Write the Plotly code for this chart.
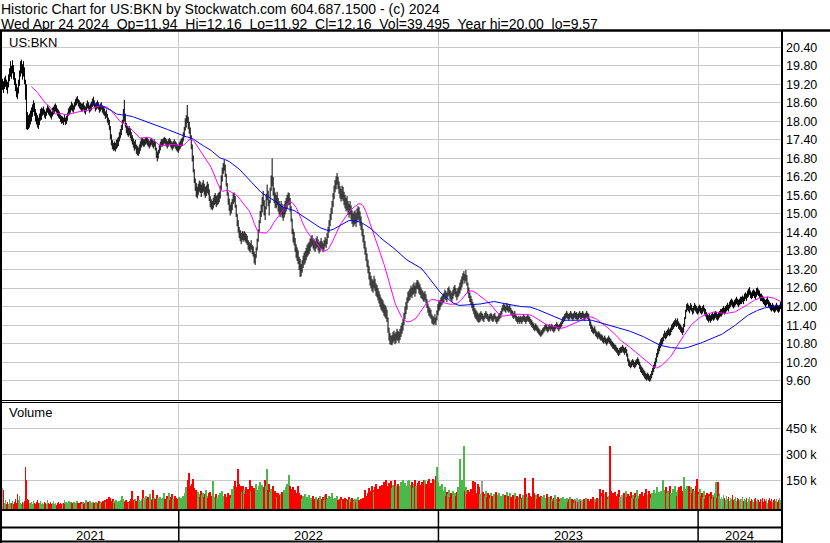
import pandas as pd
import plotly.graph_objects as go

W, H = 830, 543
FONT = "Liberation Sans, Arial, sans-serif"

# daily highs and lows, one row = 20 trading days (Apr 2021 -> Apr 24 2024)
hi = [
    19.38, 19.30, 19.42, 19.48, 19.35, 19.28, 19.52, 19.72, 19.95, 19.80, 19.98, 19.82, 19.60, 19.40, 19.22, 19.10, 19.35, 19.65, 19.95, 20.00,
    19.85, 19.95, 19.75, 19.35, 19.20, 18.30, 18.20, 18.25, 18.35, 18.45, 18.55, 18.68, 18.60, 18.40, 18.28, 18.20, 18.12, 18.25, 18.40, 18.45,
    18.42, 18.48, 18.38, 18.32, 18.42, 18.52, 18.48, 18.42, 18.38, 18.32, 18.44, 18.48, 18.54, 18.58, 18.52, 18.42, 18.38, 18.32, 18.22, 18.18,
    18.16, 18.12, 18.22, 18.12, 18.18, 18.28, 18.42, 18.48, 18.52, 18.64, 18.58, 18.52, 18.62, 18.72, 18.78, 18.82, 18.72, 18.68, 18.62, 18.58,
    18.58, 18.62, 18.52, 18.48, 18.58, 18.68, 18.62, 18.52, 18.58, 18.64, 18.74, 18.80, 18.68, 18.58, 18.62, 18.68, 18.62, 18.52, 18.58, 18.62,
    18.52, 18.48, 18.42, 18.32, 18.38, 18.24, 18.12, 18.05, 17.85, 17.58, 17.40, 17.30, 17.35, 17.30, 17.40, 17.45, 17.50, 17.65, 17.75, 17.88,
    18.05, 18.40, 18.70, 18.25, 17.95, 17.85, 17.80, 17.85, 17.75, 17.65, 17.55, 17.45, 17.35, 17.40, 17.25, 17.20, 17.15, 17.25, 17.35, 17.45,
    17.46, 17.42, 17.42, 17.46, 17.50, 17.46, 17.42, 17.36, 17.42, 17.46, 17.42, 17.36, 17.42, 17.34, 17.15, 17.02, 17.08, 17.24, 17.34, 17.42,
    17.42, 17.46, 17.50, 17.46, 17.42, 17.36, 17.42, 17.46, 17.42, 17.36, 17.32, 17.36, 17.42, 17.36, 17.32, 17.26, 17.22, 17.32, 17.38, 17.44,
    17.48, 17.65, 17.82, 18.10, 18.20, 18.53, 18.15, 17.98, 17.80, 17.55, 17.25, 16.90, 16.45, 16.15, 16.00, 15.88, 15.98, 16.08, 16.05, 15.95,
    16.02, 16.10, 15.98, 15.88, 15.92, 16.05, 15.98, 15.80, 15.58, 15.48, 15.42, 15.52, 15.62, 15.68, 15.58, 15.62, 15.68, 15.72, 15.92, 16.25,
    16.50, 16.65, 16.75, 16.60, 16.30, 16.00, 15.70, 15.50, 15.30, 15.38, 15.48, 15.68, 15.70, 15.58, 15.30, 15.00, 14.80, 14.58, 14.48, 14.38,
    14.45, 14.40, 14.45, 14.40, 14.35, 14.30, 14.15, 14.10, 14.05, 14.15, 14.00, 13.95, 13.78, 13.70, 13.92, 14.20, 14.50, 14.80, 15.10, 15.30,
    15.55, 15.75, 15.45, 15.25, 15.65, 15.95, 15.75, 15.45, 15.85, 16.25, 16.80, 16.20, 15.85, 15.70, 15.62, 15.72, 15.52, 15.42, 15.32, 15.42,
    15.32, 15.22, 15.32, 15.42, 15.52, 15.62, 15.70, 15.68, 15.52, 15.25, 14.85, 14.52, 14.42, 14.22, 14.02, 13.92, 13.82, 13.62, 13.55, 13.38,
    13.50, 13.65, 13.75, 13.80, 13.90, 14.00, 14.05, 14.10, 14.20, 14.28, 14.32, 14.22, 14.18, 14.12, 14.22, 14.28, 14.18, 14.08, 14.12, 14.22,
    14.12, 14.05, 14.15, 14.25, 14.20, 14.38, 14.58, 14.80, 15.00, 15.20, 15.42, 15.68, 15.92, 16.10, 16.22, 16.33, 16.20, 16.05, 15.90, 15.80,
    15.92, 15.88, 15.72, 15.62, 15.52, 15.58, 15.42, 15.32, 15.42, 15.28, 15.12, 15.02, 15.08, 15.12, 15.02, 15.18, 15.25, 15.22, 15.08, 14.92,
    14.70, 14.52, 14.32, 14.12, 13.92, 13.72, 13.52, 13.32, 13.12, 13.00, 12.90, 12.85, 13.00, 12.90, 12.75, 12.70, 12.60, 12.50, 12.40, 12.30,
    12.25, 12.20, 12.10, 12.05, 12.00, 11.90, 11.65, 11.32, 11.15, 11.05, 11.08, 11.18, 11.22, 11.12, 11.18, 11.28, 11.22, 11.18, 11.28, 11.38,
    11.48, 11.60, 11.80, 12.00, 12.15, 12.30, 12.48, 12.52, 12.58, 12.68, 12.62, 12.72, 12.78, 12.68, 12.78, 12.86, 12.85, 12.78, 12.72, 12.62,
    12.55, 12.50, 12.45, 12.50, 12.40, 12.25, 12.10, 12.00, 11.95, 11.90, 11.75, 11.70, 11.65, 11.75, 11.65, 11.88, 12.08, 12.18, 12.22, 12.30,
    12.35, 12.40, 12.45, 12.55, 12.50, 12.45, 12.60, 12.65, 12.55, 12.50, 12.45, 12.55, 12.65, 12.70, 12.60, 12.50, 12.60, 12.65, 12.78, 12.88,
    12.98, 13.08, 13.15, 13.05, 13.19, 13.02, 12.78, 12.62, 12.45, 12.35, 12.25, 12.15, 12.05, 11.95, 11.90, 11.85, 11.80, 11.75, 11.80, 11.85,
    11.80, 11.76, 11.70, 11.80, 11.86, 11.80, 11.76, 11.70, 11.76, 11.80, 11.76, 11.70, 11.76, 11.80, 11.70, 11.66, 11.70, 11.76, 11.80, 11.86,
    11.96, 12.06, 12.12, 12.06, 12.00, 12.12, 12.06, 12.00, 12.06, 11.96, 11.90, 11.86, 11.80, 11.86, 11.76, 11.70, 11.66, 11.70, 11.66, 11.70,
    11.66, 11.70, 11.76, 11.70, 11.66, 11.70, 11.76, 11.70, 11.66, 11.60, 11.56, 11.50, 11.46, 11.40, 11.46, 11.40, 11.36, 11.30, 11.26, 11.20,
    11.24, 11.30, 11.34, 11.40, 11.44, 11.40, 11.34, 11.40, 11.44, 11.40, 11.44, 11.40, 11.34, 11.40, 11.44, 11.50, 11.44, 11.40, 11.44, 11.50,
    11.55, 11.66, 11.70, 11.76, 11.80, 11.86, 11.80, 11.76, 11.80, 11.86, 11.80, 11.76, 11.80, 11.86, 11.80, 11.82, 11.76, 11.80, 11.86, 11.80,
    11.80, 11.86, 11.80, 11.76, 11.80, 11.86, 11.80, 11.76, 11.62, 11.52, 11.42, 11.36, 11.30, 11.36, 11.26, 11.20, 11.16, 11.20, 11.16, 11.10,
    11.10, 11.06, 11.00, 11.06, 11.00, 10.96, 11.00, 11.06, 11.00, 10.96, 10.90, 10.86, 10.82, 10.78, 10.76, 10.70, 10.66, 10.60, 10.66, 10.70,
    10.70, 10.76, 10.70, 10.66, 10.70, 10.62, 10.48, 10.32, 10.26, 10.20, 10.26, 10.30, 10.26, 10.20, 10.26, 10.30, 10.36, 10.30, 10.22, 10.12,
    10.06, 10.02, 9.96, 9.92, 9.86, 9.82, 9.86, 9.82, 9.76, 9.82, 9.92, 10.02, 10.12, 10.22, 10.34, 10.50, 10.64, 10.74, 10.84, 10.94,
    10.98, 11.02, 11.12, 11.22, 11.16, 11.22, 11.26, 11.32, 11.26, 11.32, 11.42, 11.46, 11.52, 11.56, 11.62, 11.56, 11.62, 11.52, 11.46, 11.42,
    11.36, 11.32, 11.44, 11.66, 11.90, 12.08, 12.12, 12.06, 12.02, 12.12, 12.06, 11.96, 12.02, 12.12, 12.06, 12.02, 11.96, 12.02, 12.06, 12.02,
    11.96, 12.02, 12.06, 11.96, 11.92, 11.82, 11.76, 11.72, 11.76, 11.72, 11.76, 11.82, 11.76, 11.82, 11.86, 11.82, 11.76, 11.82, 11.86, 11.92,
    11.92, 11.96, 12.02, 11.96, 12.02, 12.06, 12.12, 12.06, 12.16, 12.22, 12.26, 12.22, 12.16, 12.22, 12.26, 12.32, 12.26, 12.22, 12.26, 12.32,
    12.32, 12.36, 12.32, 12.42, 12.46, 12.42, 12.52, 12.58, 12.63, 12.52, 12.46, 12.52, 12.56, 12.52, 12.48, 12.60, 12.62, 12.56, 12.52, 12.42,
    12.42, 12.36, 12.32, 12.26, 12.22, 12.26, 12.32, 12.22, 12.16, 12.12, 12.06, 12.12, 12.06, 12.02, 12.06, 12.12, 12.06, 12.02, 12.06, 12.16,
]

lo = [
    19.02, 18.92, 19.05, 19.12, 19.02, 18.90, 19.10, 19.30, 19.45, 19.38, 19.55, 19.35, 19.18, 18.98, 18.78, 18.72, 18.90, 19.15, 19.45, 19.55,
    19.35, 19.45, 19.20, 18.70, 17.75, 17.72, 17.75, 17.80, 17.90, 18.00, 18.15, 18.30, 18.18, 18.00, 17.90, 17.80, 17.75, 17.88, 18.02, 18.05,
    18.18, 18.22, 18.12, 18.08, 18.18, 18.28, 18.22, 18.18, 18.12, 18.06, 18.16, 18.22, 18.26, 18.32, 18.28, 18.18, 18.12, 18.08, 17.98, 17.92,
    17.94, 17.88, 17.98, 17.88, 17.92, 18.02, 18.18, 18.22, 18.28, 18.36, 18.32, 18.28, 18.38, 18.48, 18.52, 18.58, 18.48, 18.42, 18.38, 18.32,
    18.32, 18.38, 18.28, 18.22, 18.32, 18.42, 18.38, 18.28, 18.32, 18.36, 18.46, 18.50, 18.42, 18.32, 18.38, 18.42, 18.38, 18.28, 18.32, 18.38,
    18.28, 18.22, 18.18, 18.08, 18.12, 17.96, 17.88, 17.72, 17.42, 17.22, 17.10, 17.05, 17.06, 17.02, 17.10, 17.15, 17.20, 17.35, 17.45, 17.55,
    17.72, 17.95, 18.00, 17.80, 17.62, 17.55, 17.50, 17.55, 17.45, 17.35, 17.25, 17.15, 17.05, 17.10, 16.95, 16.90, 16.88, 16.95, 17.05, 17.15,
    17.22, 17.18, 17.18, 17.24, 17.28, 17.22, 17.18, 17.12, 17.18, 17.24, 17.18, 17.12, 17.18, 17.06, 16.82, 16.70, 16.80, 16.96, 17.06, 17.18,
    17.18, 17.24, 17.28, 17.24, 17.18, 17.12, 17.18, 17.24, 17.18, 17.12, 17.06, 17.12, 17.18, 17.12, 17.06, 17.02, 16.98, 17.06, 17.12, 17.18,
    17.20, 17.35, 17.48, 17.70, 17.80, 17.95, 17.75, 17.60, 17.40, 17.10, 16.70, 16.35, 16.00, 15.75, 15.55, 15.50, 15.62, 15.72, 15.68, 15.55,
    15.68, 15.72, 15.62, 15.52, 15.58, 15.68, 15.62, 15.42, 15.22, 15.15, 15.12, 15.18, 15.28, 15.32, 15.22, 15.28, 15.32, 15.38, 15.50, 15.78,
    16.05, 16.30, 16.40, 16.20, 15.90, 15.60, 15.30, 15.10, 14.95, 15.02, 15.12, 15.32, 15.38, 15.20, 14.90, 14.60, 14.40, 14.22, 14.12, 14.02,
    14.15, 14.10, 14.15, 14.10, 14.05, 14.00, 13.85, 13.80, 13.75, 13.85, 13.70, 13.62, 13.40, 13.35, 13.58, 13.82, 14.10, 14.40, 14.70, 14.90,
    15.05, 15.25, 14.95, 14.80, 15.15, 15.45, 15.25, 14.95, 15.35, 15.75, 15.90, 15.60, 15.35, 15.20, 15.18, 15.28, 15.08, 14.98, 14.90, 14.98,
    14.88, 14.78, 14.88, 14.98, 15.08, 15.18, 15.28, 15.30, 15.08, 14.75, 14.35, 14.08, 13.98, 13.78, 13.58, 13.48, 13.38, 13.18, 12.96, 12.98,
    13.10, 13.25, 13.35, 13.40, 13.50, 13.60, 13.65, 13.70, 13.80, 13.92, 13.98, 13.88, 13.82, 13.78, 13.88, 13.92, 13.82, 13.72, 13.78, 13.88,
    13.85, 13.76, 13.85, 13.95, 13.90, 14.02, 14.22, 14.40, 14.60, 14.80, 15.00, 15.22, 15.48, 15.70, 15.80, 15.95, 15.80, 15.65, 15.50, 15.40,
    15.48, 15.42, 15.28, 15.18, 15.08, 15.12, 14.98, 14.88, 14.98, 14.82, 14.68, 14.58, 14.62, 14.68, 14.58, 14.72, 14.82, 14.78, 14.62, 14.48,
    14.28, 14.08, 13.88, 13.68, 13.48, 13.28, 13.08, 12.88, 12.68, 12.60, 12.50, 12.45, 12.60, 12.50, 12.35, 12.30, 12.20, 12.10, 12.00, 11.90,
    11.85, 11.80, 11.70, 11.65, 11.60, 11.50, 11.15, 10.90, 10.78, 10.76, 10.75, 10.82, 10.88, 10.78, 10.82, 10.92, 10.88, 10.82, 10.92, 11.02,
    11.12, 11.22, 11.40, 11.60, 11.75, 11.90, 12.12, 12.18, 12.22, 12.32, 12.28, 12.38, 12.42, 12.32, 12.42, 12.58, 12.55, 12.42, 12.38, 12.28,
    12.25, 12.20, 12.15, 12.20, 12.10, 11.95, 11.80, 11.70, 11.65, 11.60, 11.45, 11.42, 11.40, 11.45, 11.40, 11.55, 11.72, 11.85, 11.90, 12.00,
    12.05, 12.10, 12.15, 12.25, 12.20, 12.15, 12.30, 12.35, 12.25, 12.20, 12.15, 12.25, 12.35, 12.40, 12.30, 12.20, 12.30, 12.35, 12.42, 12.52,
    12.62, 12.72, 12.85, 12.75, 12.82, 12.68, 12.42, 12.28, 12.15, 12.05, 11.95, 11.85, 11.75, 11.65, 11.60, 11.55, 11.50, 11.48, 11.50, 11.55,
    11.60, 11.54, 11.50, 11.60, 11.64, 11.60, 11.54, 11.50, 11.54, 11.60, 11.54, 11.50, 11.54, 11.60, 11.50, 11.44, 11.50, 11.54, 11.60, 11.64,
    11.74, 11.84, 11.88, 11.84, 11.80, 11.88, 11.84, 11.80, 11.84, 11.74, 11.70, 11.64, 11.60, 11.64, 11.54, 11.50, 11.44, 11.50, 11.44, 11.50,
    11.44, 11.50, 11.54, 11.50, 11.44, 11.50, 11.54, 11.50, 11.44, 11.40, 11.34, 11.30, 11.24, 11.20, 11.24, 11.20, 11.14, 11.10, 11.06, 11.02,
    11.06, 11.10, 11.16, 11.20, 11.26, 11.20, 11.16, 11.20, 11.26, 11.20, 11.26, 11.20, 11.16, 11.20, 11.26, 11.30, 11.26, 11.20, 11.26, 11.30,
    11.35, 11.44, 11.50, 11.54, 11.60, 11.64, 11.60, 11.54, 11.60, 11.64, 11.60, 11.54, 11.60, 11.64, 11.60, 11.58, 11.54, 11.60, 11.64, 11.60,
    11.60, 11.64, 11.60, 11.54, 11.60, 11.64, 11.60, 11.54, 11.38, 11.28, 11.18, 11.14, 11.10, 11.14, 11.04, 11.00, 10.94, 11.00, 10.94, 10.90,
    10.90, 10.84, 10.80, 10.84, 10.80, 10.74, 10.80, 10.84, 10.80, 10.74, 10.70, 10.64, 10.62, 10.58, 10.54, 10.50, 10.44, 10.40, 10.44, 10.50,
    10.50, 10.54, 10.50, 10.44, 10.50, 10.38, 10.22, 10.08, 10.04, 10.00, 10.04, 10.10, 10.04, 10.00, 10.04, 10.10, 10.14, 10.10, 9.98, 9.88,
    9.84, 9.78, 9.74, 9.68, 9.64, 9.60, 9.64, 9.60, 9.57, 9.60, 9.68, 9.78, 9.88, 9.98, 10.06, 10.20, 10.36, 10.46, 10.56, 10.66,
    10.72, 10.78, 10.88, 10.98, 10.94, 10.98, 11.04, 11.08, 11.04, 11.08, 11.18, 11.24, 11.28, 11.34, 11.38, 11.34, 11.38, 11.28, 11.24, 11.18,
    11.14, 11.08, 11.16, 11.34, 11.60, 11.82, 11.88, 11.84, 11.78, 11.88, 11.84, 11.74, 11.78, 11.88, 11.84, 11.78, 11.74, 11.78, 11.84, 11.78,
    11.74, 11.78, 11.84, 11.74, 11.68, 11.58, 11.54, 11.48, 11.54, 11.48, 11.54, 11.58, 11.54, 11.58, 11.64, 11.58, 11.54, 11.58, 11.64, 11.68,
    11.68, 11.74, 11.78, 11.74, 11.78, 11.84, 11.88, 11.84, 11.94, 11.98, 12.04, 11.98, 11.94, 11.98, 12.04, 12.08, 12.04, 11.98, 12.04, 12.08,
    12.08, 12.14, 12.08, 12.18, 12.24, 12.18, 12.28, 12.32, 12.38, 12.28, 12.24, 12.28, 12.34, 12.28, 12.22, 12.32, 12.38, 12.34, 12.28, 12.18,
    12.18, 12.14, 12.08, 12.04, 11.98, 12.04, 12.08, 11.98, 11.94, 11.88, 11.84, 11.88, 11.84, 11.80, 11.84, 11.88, 11.84, 11.80, 11.84, 11.92,
]

# daily volume, thousands of shares
vol_k = [
    105, 95, 20, 35, 15, 28, 12, 45, 22, 18, 30, 14, 25, 40, 18, 70, 35, 62, 20, 15,
    25, 18, 30, 225, 155, 40, 35, 22, 18, 28, 15, 32, 20, 12, 25, 38, 18, 22, 30, 15,
    20, 14, 28, 18, 12, 35, 22, 16, 25, 12, 18, 30, 14, 22, 10, 18, 26, 12, 20, 15,
    22, 18, 35, 12, 28, 15, 20, 32, 14, 24, 18, 12, 26, 20, 15, 30, 18, 22, 14, 25,
    16, 28, 12, 20, 35, 18, 24, 14, 30, 22, 12, 26, 18, 20, 28, 15, 22, 32, 18, 25,
    20, 30, 22, 35, 28, 40, 25, 55, 48, 30, 26, 45, 32, 20, 38, 28, 22, 30, 18, 35,
    60, 42, 30, 25, 35, 20, 28, 18, 32, 40, 88, 35, 28, 45, 30, 22, 60, 38, 25, 30,
    45, 95, 50, 35, 60, 40, 55, 30, 70, 45, 38, 96, 50, 42, 35, 65, 48, 30, 55, 40,
    35, 50, 75, 42, 30, 58, 45, 80, 38, 55, 70, 45, 35, 60, 48, 30, 42, 55, 38, 50,
    45, 60, 35, 80, 110, 95, 150, 192, 120, 92, 130, 160, 105, 75, 95, 60, 85, 70, 55, 90,
    65, 80, 55, 70, 95, 60, 50, 75, 85, 45, 60, 147, 55, 40, 70, 50, 35, 65, 80, 45,
    90, 60, 45, 70, 35, 55, 80, 40, 65, 50, 100, 75, 120, 145, 110, 100, 218, 130, 90, 115,
    85, 120, 95, 70, 110, 80, 100, 75, 150, 90, 120, 70, 105, 85, 130, 95, 80, 115, 140, 100,
    125, 90, 110, 150, 120, 218, 95, 130, 85, 100, 70, 115, 60, 90, 75, 55, 80, 65, 50, 70,
    85, 60, 95, 75, 110, 130, 90, 182, 120, 100, 85, 110, 70, 95, 60, 80, 120, 75, 55, 65,
    45, 60, 35, 70, 40, 55, 30, 65, 45, 50, 38, 60, 42, 30, 55, 40, 35, 48, 62, 30,
    40, 55, 35, 65, 70, 45, 50, 60, 40, 55, 75, 45, 35, 50, 42, 60, 38, 30, 45, 52,
    35, 40, 28, 50, 45, 30, 38, 55, 42, 25, 48, 35, 30, 45, 28, 40, 52, 35, 30, 42,
    38, 50, 45, 96, 60, 55, 80, 105, 90, 75, 120, 95, 85, 110, 130, 70, 100, 85, 115, 95,
    125, 100, 140, 90, 155, 120, 110, 135, 95, 145, 105, 125, 90, 150, 115, 100, 130, 85, 120, 140,
    110, 150, 95, 135, 120, 100, 145, 155, 90, 125, 140, 105, 130, 155, 115, 95, 135, 145, 110, 125,
    140, 120, 155, 150, 130, 100, 145, 158, 120, 135, 110, 160, 125, 150, 175, 226, 140, 85, 120, 100,
    130, 90, 75, 110, 60, 85, 70, 95, 55, 80, 65, 90, 50, 75, 60, 85, 110, 65, 275, 150,
    120, 155, 348, 90, 110, 70, 95, 60, 85, 100, 75, 145, 90, 140, 65, 80, 130, 110, 70, 60,
    145, 85, 70, 60, 90, 55, 75, 65, 50, 80, 60, 45, 70, 55, 85, 50, 65, 75, 45, 60,
    55, 70, 40, 65, 50, 85, 60, 45, 75, 55, 40, 65, 50, 80, 45, 60, 35, 55, 70, 45,
    50, 65, 40, 163, 70, 55, 45, 80, 60, 40, 55, 163, 75, 50, 65, 45, 70, 55, 40, 60,
    55, 45, 65, 40, 50, 70, 35, 55, 45, 60, 40, 30, 50, 65, 35, 45, 55, 40, 30, 50,
    40, 55, 30, 45, 35, 50, 25, 40, 55, 30, 45, 35, 20, 40, 30, 50, 25, 35, 45, 30,
    35, 25, 45, 30, 50, 20, 40, 30, 25, 45, 35, 55, 30, 40, 25, 50, 35, 45, 100, 80,
    60, 95, 45, 70, 85, 55, 40, 60, 348, 90, 65, 75, 50, 85, 60, 45, 70, 95, 55, 40,
    65, 50, 80, 45, 90, 55, 70, 40, 60, 85, 50, 65, 45, 75, 55, 95, 60, 40, 70, 50,
    85, 60, 45, 75, 100, 55, 65, 90, 70, 50, 80, 60, 95, 55, 75, 110, 65, 85, 60, 90,
    70, 155, 95, 60, 110, 75, 90, 55, 120, 80, 65, 100, 70, 115, 85, 60, 95, 110, 75, 120,
    90, 70, 168, 100, 80, 115, 95, 120, 85, 110, 75, 100, 90, 65, 120, 160, 85, 70, 100, 60,
    75, 55, 90, 45, 65, 80, 50, 70, 60, 85, 45, 65, 55, 75, 140, 50, 140, 60, 70, 45,
    55, 40, 65, 50, 35, 60, 45, 55, 30, 50, 40, 65, 35, 45, 55, 30, 50, 40, 35, 45,
    40, 55, 30, 45, 35, 50, 25, 40, 55, 30, 45, 35, 25, 40, 50, 30, 45, 35, 25, 40,
    35, 50, 25, 40, 30, 45, 20, 35, 50, 30, 40, 25, 35, 45, 30, 40, 25, 35, 50, 39.495,
]

price_ticks = [9.60, 10.20, 10.80, 11.40, 12.00, 12.60, 13.20, 13.80, 14.40, 15.00,
               15.60, 16.20, 16.80, 17.40, 18.00, 18.60, 19.20, 19.80, 20.40]
vol_ticks = [150000, 300000, 450000]
vol_labels = ["150 k", "300 k", "450 k"]

header1 = "Historic Chart for US:BKN by Stockwatch.com 604.687.1500 - (c) 2024"
header2 = ("Wed Apr 24 2024\u00a0\u00a0Op=11.94\u00a0\u00a0Hi=12.16\u00a0\u00a0Lo=11.92\u00a0\u00a0"
           "Cl=12.16\u00a0\u00a0Vol=39,495\u00a0\u00a0Year hi=20.00\u00a0\u00a0lo=9.57")

n = len(hi)
dates = pd.bdate_range(end="2024-04-24", periods=n)
idx = list(range(n))
mid = pd.Series([(h + l) / 2 for h, l in zip(hi, lo)])
ma_fast = mid.rolling(30).mean()
ma_slow = mid.rolling(90).mean()

# first trading day of each year -> divider position
years = dates.year
bounds = [i - 0.5 for i in range(1, n) if years[i] != years[i - 1]]
edges = [-0.5] + bounds + [n - 0.5]
year_names = [str(y) for y in sorted(set(years))]

colors = ["#a0a0a0"]
for i in range(1, n):
    d = mid[i] - mid[i - 1]
    colors.append("#4cb84c" if d > 0 else ("#ff0000" if d < 0 else "#a0a0a0"))

VOL_FLOOR = -18000


def px(x):
    return x / W


def py(y):
    return 1 - y / H


fig = go.Figure()

bx, by = [], []
for i, (h, l) in enumerate(zip(hi, lo)):
    bx += [i, i, None]
    by += [l, h, None]
fig.add_trace(go.Scatter(x=bx, y=by, mode="lines", line=dict(color="black", width=1),
                         hoverinfo="skip"))
fig.add_trace(go.Scatter(x=idx, y=ma_fast, mode="lines", line=dict(color="#ff00ff", width=1)))
fig.add_trace(go.Scatter(x=idx, y=ma_slow, mode="lines", line=dict(color="#0000ff", width=1)))

fig.add_trace(go.Bar(
    x=idx, y=[v * 1000 - VOL_FLOOR for v in vol_k], base=VOL_FLOOR,
    marker=dict(color=colors, line=dict(width=0)), width=0.85,
    xaxis="x2", yaxis="y2", hoverinfo="skip",
))

axis_x = dict(
    range=[-0.5, n - 0.5],
    domain=[px(2), px(781)],
    tickvals=bounds,
    showticklabels=False,
    ticks="",
    showgrid=True,
    gridcolor="#c8c8c8",
    gridwidth=1,
    zeroline=False,
    showline=False,
)

shapes = []


def hline(y, x0, x1, w):
    shapes.append(dict(type="line", xref="paper", yref="paper", x0=px(x0), x1=px(x1),
                       y0=py(y), y1=py(y), line=dict(color="black", width=w)))


def vline(x, y0, y1, w):
    shapes.append(dict(type="line", xref="paper", yref="paper", x0=px(x), x1=px(x),
                       y0=py(y0), y1=py(y1), line=dict(color="black", width=w)))


hline(30.5, 0, W, 2.5)
hline(400.5, 0, 782, 1)
hline(402.5, 0, 782, 1)
hline(510, 0, 782, 2)
hline(527.5, 0, 782, 2)
hline(541.5, 0, 782, 2)
vline(1, 30, H, 2)
vline(782, 30, H, 2)
for b in bounds:
    shapes.append(dict(type="line", xref="x", yref="paper", x0=b, x1=b,
                       y0=py(541), y1=py(510), line=dict(color="black", width=1.5)))

annotations = [
    dict(text=header1, x=px(0), y=py(8.5), size=14),
    dict(text=header2, x=px(0), y=py(23.5), size=14),
    dict(text="US:BKN", x=px(8), y=py(42), size=13),
    dict(text="Volume", x=px(8), y=py(413), size=13),
]
for a in annotations:
    size = a.pop("size")
    a.update(xref="paper", yref="paper", xanchor="left", yanchor="middle", showarrow=False,
             borderpad=0, font=dict(family=FONT, size=size, color="black"))
for k, name in enumerate(year_names):
    annotations.append(dict(
        text=name, x=(edges[k] + edges[k + 1]) / 2, y=py(535), xref="x", yref="paper",
        xanchor="center", yanchor="middle", showarrow=False,
        font=dict(family=FONT, size=13, color="black"),
    ))

fig.update_layout(
    width=W,
    height=H,
    margin=dict(l=0, r=0, t=0, b=0),
    paper_bgcolor="white",
    plot_bgcolor="white",
    showlegend=False,
    bargap=0,
    xaxis=dict(axis_x, anchor="y"),
    xaxis2=dict(axis_x, anchor="y2", matches="x"),
    yaxis=dict(
        domain=[py(400), py(31)],
        range=[8.975, 20.927],
        side="right",
        tickvals=price_ticks,
        ticktext=[f"{v:.2f}" for v in price_ticks],
        ticks="",
        ticklabelstandoff=4,
        showgrid=True,
        gridcolor="#c8c8c8",
        zeroline=False,
        tickfont=dict(family=FONT, size=12.5, color="black"),
    ),
    yaxis2=dict(
        domain=[py(509.5), py(402)],
        range=[VOL_FLOOR, 602000],
        side="right",
        anchor="x2",
        tickvals=vol_ticks,
        ticktext=vol_labels,
        ticks="",
        ticklabelstandoff=4,
        showgrid=True,
        gridcolor="#c8c8c8",
        zeroline=False,
        tickfont=dict(family=FONT, size=12.5, color="black"),
    ),
    shapes=shapes,
    annotations=annotations,
)

# the page's default 8px body margin would shift the chart off its frame
fig.write_html("out.html", config={"displayModeBar": False},
               post_script="document.body.style.margin='0';")
